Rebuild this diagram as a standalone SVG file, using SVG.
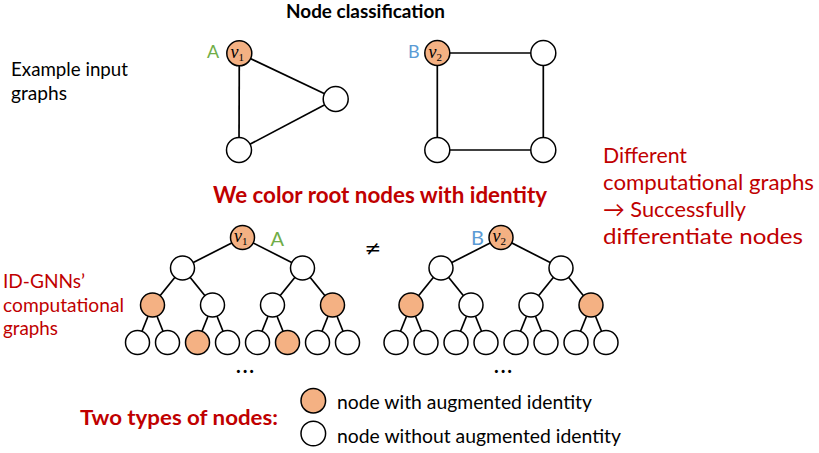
<svg xmlns="http://www.w3.org/2000/svg" width="819" height="453" viewBox="0 0 819 453">
<style>
  .bg { fill: #ffffff; }
  .edge { stroke: #000; stroke-width: 1.7; fill: none; }
  .n { fill: #ffffff; stroke: #000; stroke-width: 1.5; }
  .id { fill: #F4B183; stroke: #000; stroke-width: 1.5; }
  .t { font-family: Lato, "Open Sans", "Liberation Sans", sans-serif; }
  .red { fill: #C00000; }
  .blk { fill: #000; }
  .b { font-weight: bold; }
  .ga { fill: #70AD47; }
  .gb { fill: #5B9BD5; }
  .m { font-family: "Liberation Serif", "DejaVu Serif", serif; font-style: italic; fill: #000; }
</style>
<rect class="bg" x="0" y="0" width="819" height="453"/>

<!-- texts -->
<text class="t b blk" x="286" y="18" font-size="18" textLength="159" lengthAdjust="spacingAndGlyphs">Node classification</text>
<g id="label-example">
  <text class="t blk" x="11" y="76" font-size="20" textLength="117" lengthAdjust="spacingAndGlyphs">Example input</text>
  <text class="t blk" x="11" y="100" font-size="20" textLength="56" lengthAdjust="spacingAndGlyphs">graphs</text>
</g>
<text class="t b red" x="213" y="203" font-size="22" textLength="334" lengthAdjust="spacingAndGlyphs">We color root nodes with identity</text>
<g id="label-right">
  <text class="t red" x="603" y="163" font-size="21.5" textLength="84" lengthAdjust="spacingAndGlyphs">Different</text>
  <text class="t red" x="603" y="190" font-size="21.5" textLength="211" lengthAdjust="spacingAndGlyphs">computational graphs</text>
  <text class="t red" x="603" y="217" font-size="21.5" textLength="143" lengthAdjust="spacingAndGlyphs">→ Successfully</text>
  <text class="t red" x="603" y="244" font-size="21.5" textLength="200" lengthAdjust="spacingAndGlyphs">differentiate nodes</text>
</g>
<g id="label-idgnn">
  <text class="t red" x="3" y="288" font-size="20" textLength="82" lengthAdjust="spacingAndGlyphs">ID-GNNs’</text>
  <text class="t red" x="3" y="311.5" font-size="20" textLength="121" lengthAdjust="spacingAndGlyphs">computational</text>
  <text class="t red" x="3" y="335" font-size="20" textLength="55" lengthAdjust="spacingAndGlyphs">graphs</text>
</g>
<text x="373" y="255" font-family="'DejaVu Sans', sans-serif" font-size="20" text-anchor="middle" fill="#000">≠</text>
<text class="t b blk" x="236" y="373" font-size="20" textLength="18" lengthAdjust="spacing">...</text>
<text class="t b blk" x="494" y="373" font-size="20" textLength="18" lengthAdjust="spacing">...</text>

<!-- connectors -->
<g id="connectors">
  <!-- graph A -->
  <line class="edge" x1="239.3" y1="53.3" x2="335.7" y2="99"/>
  <line class="edge" x1="239.3" y1="53.3" x2="239" y2="150"/>
  <line class="edge" x1="239" y1="150" x2="335.7" y2="99"/>
  <!-- graph B -->
  <line class="edge" x1="437.3" y1="53" x2="543.3" y2="53"/>
  <line class="edge" x1="437.3" y1="53" x2="437.3" y2="150"/>
  <line class="edge" x1="543.3" y1="53" x2="543.3" y2="150"/>
  <line class="edge" x1="437.3" y1="150" x2="543.3" y2="150"/>
  <!-- left tree -->
  <line class="edge" x1="242.5" y1="237.5" x2="182.5" y2="268"/>
  <line class="edge" x1="242.5" y1="237.5" x2="302.5" y2="268"/>
  <line class="edge" x1="182.5" y1="268" x2="152.5" y2="305"/>
  <line class="edge" x1="182.5" y1="268" x2="212.5" y2="305"/>
  <line class="edge" x1="302.5" y1="268" x2="272.5" y2="305"/>
  <line class="edge" x1="302.5" y1="268" x2="332.5" y2="305"/>
  <line class="edge" x1="152.5" y1="305" x2="137.5" y2="342.5"/>
  <line class="edge" x1="152.5" y1="305" x2="167.5" y2="342.5"/>
  <line class="edge" x1="212.5" y1="305" x2="197.5" y2="342.5"/>
  <line class="edge" x1="212.5" y1="305" x2="227.5" y2="342.5"/>
  <line class="edge" x1="272.5" y1="305" x2="257.5" y2="342.5"/>
  <line class="edge" x1="272.5" y1="305" x2="287.5" y2="342.5"/>
  <line class="edge" x1="332.5" y1="305" x2="317.5" y2="342.5"/>
  <line class="edge" x1="332.5" y1="305" x2="347.5" y2="342.5"/>
  <!-- right tree -->
  <line class="edge" x1="501" y1="237.5" x2="441" y2="268"/>
  <line class="edge" x1="501" y1="237.5" x2="561" y2="268"/>
  <line class="edge" x1="441" y1="268" x2="411" y2="305"/>
  <line class="edge" x1="441" y1="268" x2="471" y2="305"/>
  <line class="edge" x1="561" y1="268" x2="531" y2="305"/>
  <line class="edge" x1="561" y1="268" x2="591" y2="305"/>
  <line class="edge" x1="411" y1="305" x2="396" y2="342.5"/>
  <line class="edge" x1="411" y1="305" x2="426" y2="342.5"/>
  <line class="edge" x1="471" y1="305" x2="456" y2="342.5"/>
  <line class="edge" x1="471" y1="305" x2="486" y2="342.5"/>
  <line class="edge" x1="531" y1="305" x2="516" y2="342.5"/>
  <line class="edge" x1="531" y1="305" x2="546" y2="342.5"/>
  <line class="edge" x1="591" y1="305" x2="576" y2="342.5"/>
  <line class="edge" x1="591" y1="305" x2="606" y2="342.5"/>
</g>

<!-- graph A nodes -->
<g id="gA-v1">
  <circle class="id" cx="239.3" cy="53.3" r="12.5"/>
  <text class="m" x="230.5" y="57.5" font-size="18">v<tspan font-size="11" font-style="normal" dy="3">1</tspan></text>
  <text class="t ga" x="207" y="57.5" font-size="18">A</text>
</g>
<g id="gA-n2"><circle class="n" cx="335.7" cy="99" r="12.5"/></g>
<g id="gA-n3"><circle class="n" cx="239" cy="150" r="12.5"/></g>

<!-- graph B nodes -->
<g id="gB-v2">
  <circle class="id" cx="437.3" cy="53" r="12.5"/>
  <text class="m" x="428.5" y="57.5" font-size="18">v<tspan font-size="11" font-style="normal" dy="3">2</tspan></text>
  <text class="t gb" x="408" y="58" font-size="18">B</text>
</g>
<g id="gB-n2"><circle class="n" cx="543.3" cy="53" r="12.5"/></g>
<g id="gB-n3"><circle class="n" cx="437.3" cy="150" r="12.5"/></g>
<g id="gB-n4"><circle class="n" cx="543.3" cy="150" r="12.5"/></g>

<!-- left tree nodes -->
<g id="tA-root">
  <circle class="id" cx="242.5" cy="237.5" r="12"/>
  <text class="m" x="234" y="242" font-size="18">v<tspan font-size="11" font-style="normal" dy="3">1</tspan></text>
  <text class="t ga" x="270.5" y="245.5" font-size="20">A</text>
</g>
<g id="tA-l1a"><circle class="n" cx="182.5" cy="268" r="12"/></g>
<g id="tA-l1b"><circle class="n" cx="302.5" cy="268" r="12"/></g>
<g id="tA-l2a"><circle class="id" cx="152.5" cy="305" r="12"/></g>
<g id="tA-l2b"><circle class="n" cx="212.5" cy="305" r="12"/></g>
<g id="tA-l2c"><circle class="n" cx="272.5" cy="305" r="12"/></g>
<g id="tA-l2d"><circle class="id" cx="332.5" cy="305" r="12"/></g>
<g id="tA-l3a"><circle class="n" cx="137.5" cy="342.5" r="12"/></g>
<g id="tA-l3b"><circle class="n" cx="167.5" cy="342.5" r="12"/></g>
<g id="tA-l3c"><circle class="id" cx="197.5" cy="342.5" r="12"/></g>
<g id="tA-l3d"><circle class="n" cx="227.5" cy="342.5" r="12"/></g>
<g id="tA-l3e"><circle class="n" cx="257.5" cy="342.5" r="12"/></g>
<g id="tA-l3f"><circle class="id" cx="287.5" cy="342.5" r="12"/></g>
<g id="tA-l3g"><circle class="n" cx="317.5" cy="342.5" r="12"/></g>
<g id="tA-l3h"><circle class="n" cx="347.5" cy="342.5" r="12"/></g>

<!-- right tree nodes -->
<g id="tB-root">
  <circle class="id" cx="501" cy="237.5" r="12"/>
  <text class="m" x="492.5" y="242" font-size="18">v<tspan font-size="11" font-style="normal" dy="3">2</tspan></text>
  <text class="t gb" x="471" y="245" font-size="20">B</text>
</g>
<g id="tB-l1a"><circle class="n" cx="441" cy="268" r="12"/></g>
<g id="tB-l1b"><circle class="n" cx="561" cy="268" r="12"/></g>
<g id="tB-l2a"><circle class="id" cx="411" cy="305" r="12"/></g>
<g id="tB-l2b"><circle class="n" cx="471" cy="305" r="12"/></g>
<g id="tB-l2c"><circle class="n" cx="531" cy="305" r="12"/></g>
<g id="tB-l2d"><circle class="id" cx="591" cy="305" r="12"/></g>
<g id="tB-l3a"><circle class="n" cx="396" cy="342.5" r="12"/></g>
<g id="tB-l3b"><circle class="n" cx="426" cy="342.5" r="12"/></g>
<g id="tB-l3c"><circle class="n" cx="456" cy="342.5" r="12"/></g>
<g id="tB-l3d"><circle class="n" cx="486" cy="342.5" r="12"/></g>
<g id="tB-l3e"><circle class="n" cx="516" cy="342.5" r="12"/></g>
<g id="tB-l3f"><circle class="n" cx="546" cy="342.5" r="12"/></g>
<g id="tB-l3g"><circle class="n" cx="576" cy="342.5" r="12"/></g>
<g id="tB-l3h"><circle class="n" cx="606" cy="342.5" r="12"/></g>

<!-- legend -->
<g id="legend">
  <text class="t b red" x="80" y="425" font-size="21.5" textLength="198" lengthAdjust="spacingAndGlyphs">Two types of nodes:</text>
  <g id="legend-id">
    <circle class="id" cx="313.3" cy="400.7" r="12.3"/>
    <text class="t blk" x="337" y="409" font-size="19.5" textLength="255" lengthAdjust="spacingAndGlyphs">node with augmented identity</text>
  </g>
  <g id="legend-plain">
    <circle class="n" cx="313.3" cy="433.5" r="12.3"/>
    <text class="t blk" x="337" y="442.5" font-size="19.5" textLength="284" lengthAdjust="spacingAndGlyphs">node without augmented identity</text>
  </g>
</g>
</svg>
